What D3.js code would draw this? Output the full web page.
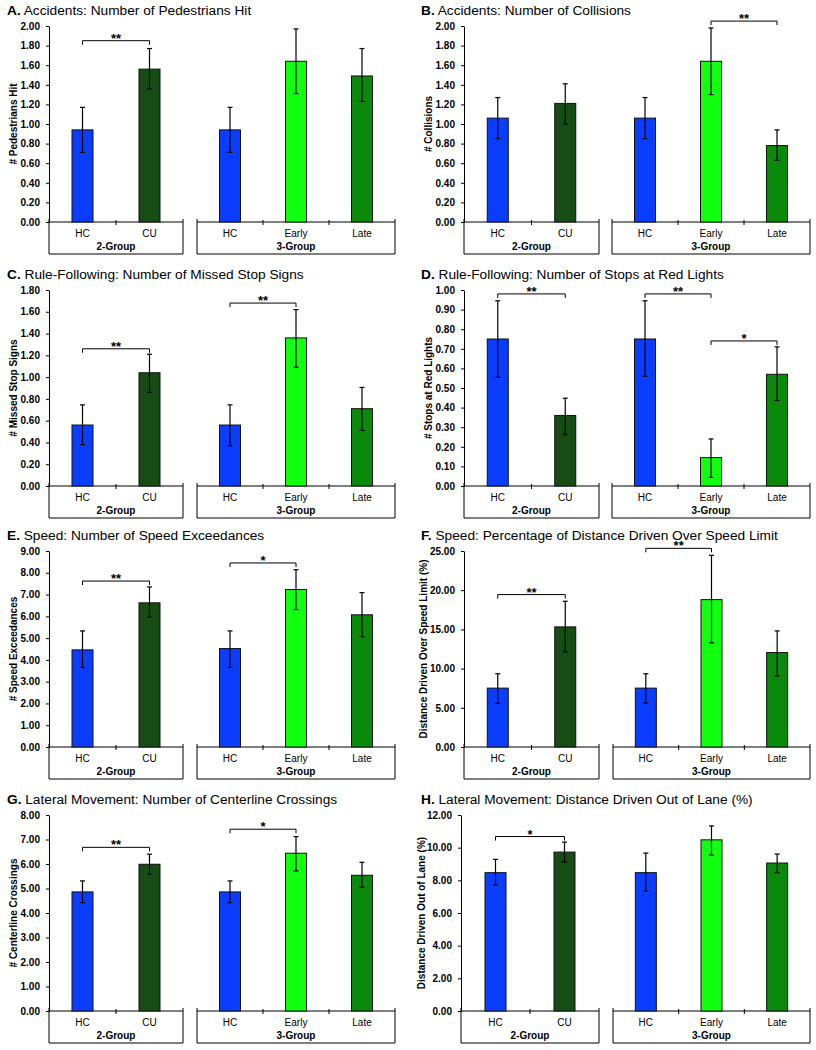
<!DOCTYPE html>
<html>
<head>
<meta charset="utf-8">
<script src="https://cdn.jsdelivr.net/npm/d3@7"></script>
<style>
  body { margin: 0; background: #fff; }
  svg { display: block; }
  text { font-family: "Liberation Sans", Arial, sans-serif; fill: #000; }
</style>
</head>
<body>
<script>
// categories
var groups2 = ["HC", "CU"];
var groups3 = ["HC", "Early", "Late"];
var groupNames = ["2-Group", "3-Group"];
var catColors = { "HC": "#0b3dff", "CU": "#154d15", "Early": "#12ff12", "Late": "#0a8a0a" };

// values are in bar order: HC, CU (2-group), HC, Early, Late (3-group)
var pedMean  = [0.94, 1.56, 0.94, 1.64, 1.49];
var pedUpper = [1.17, 1.77, 1.17, 1.97, 1.77];
var pedLower = [0.71, 1.36, 0.71, 1.31, 1.23];

var colMean  = [1.06, 1.21, 1.06, 1.64, 0.78];
var colUpper = [1.27, 1.41, 1.27, 1.98, 0.94];
var colLower = [0.85, 1.00, 0.85, 1.30, 0.63];

var stopMean  = [0.56, 1.04, 0.56, 1.36, 0.71];
var stopUpper = [0.745, 1.21, 0.745, 1.62, 0.905];
var stopLower = [0.38, 0.86, 0.37, 1.09, 0.51];

var redMean  = [0.75, 0.36, 0.75, 0.145, 0.57];
var redUpper = [0.945, 0.448, 0.945, 0.24, 0.71];
var redLower = [0.554, 0.262, 0.56, 0.044, 0.436];

var exceedMean  = [4.46, 6.62, 4.52, 7.23, 6.07];
var exceedUpper = [5.33, 7.35, 5.33, 8.14, 7.09];
var exceedLower = [3.65, 5.96, 3.65, 6.31, 5.06];

var overMean  = [7.51, 15.32, 7.51, 18.8, 12.05];
var overUpper = [9.34, 18.59, 9.34, 24.45, 14.81];
var overLower = [5.56, 12.14, 5.62, 13.29, 9.04];

var centerMean  = [4.86, 5.99, 4.86, 6.44, 5.54];
var centerUpper = [5.31, 6.40, 5.31, 7.12, 6.07];
var centerLower = [4.42, 5.58, 4.42, 5.72, 5.05];

var laneMean  = [8.47, 9.73, 8.47, 10.48, 9.06];
var laneUpper = [9.28, 10.34, 9.67, 11.33, 9.61];
var laneLower = [7.72, 9.12, 7.34, 9.55, 8.47];

// significance brackets: [from bar, to bar, height, label]
var pedSig    = [[0, 1, 1.85, "**"]];
var colSig    = [[3, 4, 2.05, "**"]];
var stopSig   = [[0, 1, 1.26, "**"], [2, 3, 1.68, "**"]];
var redSig    = [[0, 1, 0.98, "**"], [2, 3, 0.98, "**"], [3, 4, 0.74, "*"]];
var exceedSig = [[0, 1, 7.62, "**"], [2, 3, 8.45, "*"]];
var overSig   = [[0, 1, 19.44, "**"], [2, 3, 25.34, "**"]];
var centerSig = [[0, 1, 6.68, "**"], [2, 3, 7.42, "*"]];
var laneSig   = [[0, 1, 10.68, "*"]];

// y axis extents and tick steps
var yMaxes = [2, 2, 1.8, 1, 9, 25, 8, 12];
var ySteps = [0.2, 0.2, 0.2, 0.1, 1, 5, 1, 2];

var letters = ["A.", "B.", "C.", "D.", "E.", "F.", "G.", "H."];
var titles = [
  "Accidents: Number of Pedestrians Hit",
  "Accidents: Number of Collisions",
  "Rule-Following: Number of Missed Stop Signs",
  "Rule-Following: Number of Stops at Red Lights",
  "Speed: Number of Speed Exceedances",
  "Speed: Percentage of Distance Driven Over Speed Limit",
  "Lateral Movement: Number of Centerline Crossings",
  "Lateral Movement: Distance Driven Out of Lane (%)"
];
var yLabels = [
  "# Pedestrians Hit", "# Collisions", "# Missed Stop Signs", "# Stops at Red Lights",
  "# Speed Exceedances", "Distance Driven Over Speed Limit (%)",
  "# Centerline Crossings", "Distance Driven Out of Lane (%)"
];

var means  = [pedMean, colMean, stopMean, redMean, exceedMean, overMean, centerMean, laneMean];
var uppers = [pedUpper, colUpper, stopUpper, redUpper, exceedUpper, overUpper, centerUpper, laneUpper];
var lowers = [pedLower, colLower, stopLower, redLower, exceedLower, overLower, centerLower, laneLower];
var sigs   = [pedSig, colSig, stopSig, redSig, exceedSig, overSig, centerSig, laneSig];

// layout
var W = 816, H = 1050;
var rowZero = [222, 486, 747, 1011];
var plotH = 196;
var titleX = [7, 421];
var panelAxisX = [49, 464, 49, 464, 49, 464, 49, 461];
var panelG1End = [183, 599, 183, 599, 183, 599, 183, 599];
var panelG2 = [[197, 395], [612, 810], [197, 395], [612, 810], [197, 395], [613, 810], [197, 395], [613, 810]];
var panelYLabX = [13, 428, 13, 428, 13, 423, 13, 421];
var barW = 21;

var svg = d3.select("body").append("svg")
  .attr("width", W)
  .attr("height", H);

for (var p = 0; p < 8; p++) {
  drawPanel(p);
}

function drawPanel(p) {
  var row = Math.floor(p / 2), col = p % 2;
  var zero = rowZero[row];
  var ax = panelAxisX[p];
  var g = svg.append("g");

  var y = d3.scaleLinear()
    .domain([0, yMaxes[p]])
    .range([zero, zero - plotH]);

  var ticks = d3.range(0, yMaxes[p] + ySteps[p] / 2, ySteps[p]);

  // title
  var t = g.append("text")
    .attr("x", titleX[col])
    .attr("y", zero - 207)
    .style("font-size", "13.7px");
  t.append("tspan").style("font-weight", "bold").text(letters[p]);
  t.append("tspan").text(" " + titles[p]);

  // y axis
  var yAxis = g.append("g")
    .attr("transform", "translate(" + ax + ",0)")
    .call(d3.axisLeft(y)
      .tickValues(ticks)
      .tickFormat(d3.format(".2f"))
      .tickSize(3)
      .tickSizeOuter(0)
      .tickPadding(6));
  yAxis.selectAll("text")
    .style("font-size", "10px")
    .style("font-weight", "bold")
    .style("font-family", "'Liberation Sans', Arial, sans-serif");
  yAxis.selectAll("line, path").attr("stroke", "#000");

  g.append("text")
    .attr("transform", "translate(" + (panelYLabX[p] + 3.5) + "," + (zero - plotH / 2) + ") rotate(-90)")
    .attr("text-anchor", "middle")
    .style("font-size", "10px")
    .style("font-weight", "bold")
    .text(yLabels[p]);

  var ranges = [[ax, panelG1End[p]], panelG2[p]];
  var centers = [];

  [groups2, groups3].forEach(function(cats, gi) {
    var r = ranges[gi];
    var x = d3.scaleBand().domain(cats).range(r);

    // box under the axis
    g.append("path")
      .attr("d", "M" + r[0] + "," + (zero - 3) + "V" + (zero + 32) + "H" + r[1] + "V" + (zero - 3))
      .attr("fill", "none")
      .attr("stroke", "#000")
      .attr("stroke-width", 1);
    g.append("line")
      .attr("x1", r[0]).attr("x2", r[1])
      .attr("y1", zero).attr("y2", zero)
      .attr("stroke", "#000");

    // divider ticks between categories
    g.selectAll(null)
      .data(cats.slice(1))
      .enter()
      .append("line")
      .attr("x1", function(d) { return x(d); })
      .attr("x2", function(d) { return x(d); })
      .attr("y1", zero - 2)
      .attr("y2", zero + 3)
      .attr("stroke", "#000");

    var xAxis = g.append("g")
      .attr("transform", "translate(0," + zero + ")")
      .call(d3.axisBottom(x).tickSize(0).tickPadding(8));
    xAxis.select(".domain").remove();
    xAxis.selectAll("text")
      .style("font-size", "10px")
      .style("font-family", "'Liberation Sans', Arial, sans-serif");

    g.append("text")
      .attr("x", (r[0] + r[1]) / 2)
      .attr("y", zero + 28)
      .attr("text-anchor", "middle")
      .style("font-size", "10px")
      .style("font-weight", "bold")
      .text(groupNames[gi]);

    var offset = gi === 0 ? 0 : 2;
    var bars = cats.map(function(c, i) {
      return {
        cat: c,
        mean: means[p][offset + i],
        hi: uppers[p][offset + i],
        lo: lowers[p][offset + i],
        cx: x(c) + x.bandwidth() / 2
      };
    });
    bars.forEach(function(b) { centers.push(b.cx); });

    g.selectAll(null)
      .data(bars)
      .enter()
      .append("rect")
      .attr("x", function(d) { return d.cx - barW / 2; })
      .attr("y", function(d) { return y(d.mean); })
      .attr("width", barW)
      .attr("height", function(d) { return zero - y(d.mean); })
      .attr("fill", function(d) { return catColors[d.cat]; })
      .attr("stroke", "#111")
      .attr("stroke-width", 1);

    // error bars
    var eb = g.selectAll(null)
      .data(bars)
      .enter()
      .append("g")
      .attr("stroke", "#000")
      .attr("stroke-width", 1.2);
    eb.append("line")
      .attr("x1", function(d) { return d.cx; })
      .attr("x2", function(d) { return d.cx; })
      .attr("y1", function(d) { return y(d.lo); })
      .attr("y2", function(d) { return y(d.hi); });
    eb.append("line")
      .attr("x1", function(d) { return d.cx - 2.5; })
      .attr("x2", function(d) { return d.cx + 2.5; })
      .attr("y1", function(d) { return y(d.hi); })
      .attr("y2", function(d) { return y(d.hi); });
    eb.append("line")
      .attr("x1", function(d) { return d.cx - 2.5; })
      .attr("x2", function(d) { return d.cx + 2.5; })
      .attr("y1", function(d) { return y(d.lo); })
      .attr("y2", function(d) { return y(d.lo); });
  });

  // significance brackets
  sigs[p].forEach(function(s) {
    var x1 = centers[s[0]], x2 = centers[s[1]], yb = y(s[2]);
    g.append("path")
      .attr("d", "M" + x1 + "," + (yb + 4) + "V" + yb + "H" + x2 + "V" + (yb + 4))
      .attr("fill", "none")
      .attr("stroke", "#000")
      .attr("stroke-width", 1);
    g.append("text")
      .attr("x", (x1 + x2) / 2)
      .attr("y", yb + 2)
      .attr("text-anchor", "middle")
      .style("font-size", "13px")
      .style("font-weight", "bold")
      .text(s[3]);
  });
}
</script>
</body>
</html>
